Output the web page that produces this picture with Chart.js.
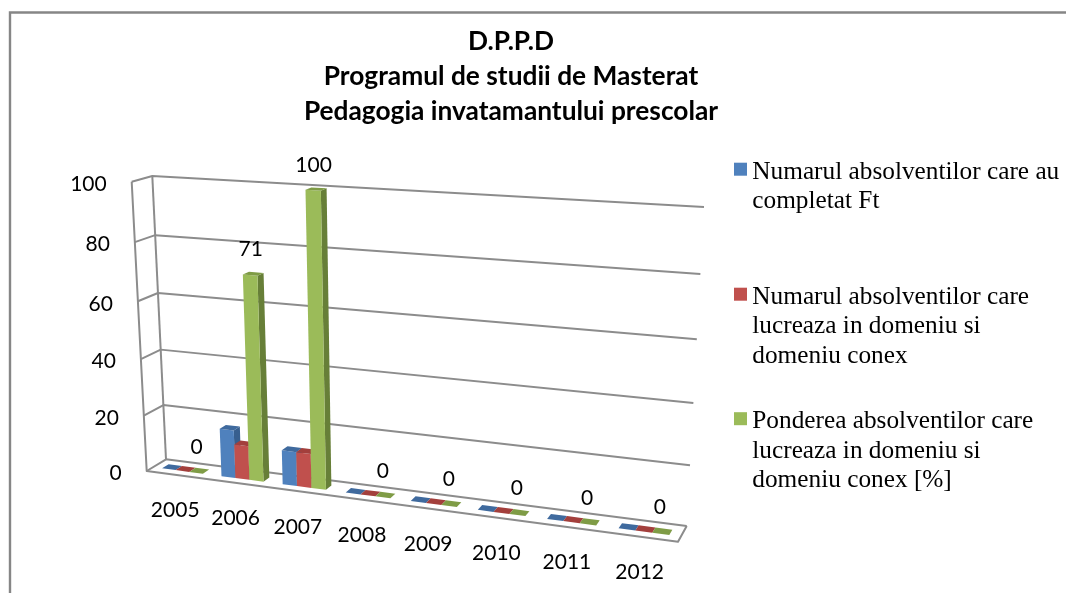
<!DOCTYPE html>
<html><head><meta charset="utf-8">
<style>html,body{margin:0;padding:0;background:#fff}canvas{display:block}</style>
<script src="https://cdn.jsdelivr.net/npm/chart.js@4"></script>
</head><body><canvas id="c" width="1066" height="593"></canvas>
<script>
const categories = ['2005','2006','2007','2008','2009','2010','2011','2012'];
const completed = [0,17,12,0,0,0,0,0];
const working = [0,12,12,0,0,0,0,0];
const share = [0,71,100,0,0,0,0,0];
const seriesNames = ['Numarul absolventilor care au completat Ft','Numarul absolventilor care lucreaza in domeniu si domeniu conex','Ponderea absolventilor care lucreaza in domeniu si domeniu conex [%]'];
const legendLines = [['Numarul absolventilor care au','completat Ft'],['Numarul absolventilor care','lucreaza in domeniu si','domeniu conex'],['Ponderea absolventilor care','lucreaza in domeniu si','domeniu conex [%]']];
const titleLines = ['D.P.P.D','Programul de studii de Masterat','Pedagogia invatamantului prescolar'];
const frontColors = ['#4F81BD','#C0504D','#9BBB59'];
const sideColors = ['#375F8F','#8F3A38','#677F38'];
const topColors = ['#3F6A9E','#A33F3C','#7F9C46'];
const gridColor = '#8C8C8C';
const labelFont = '21px Lato';
// camera: corners of the back wall and of the front plane of the 3D box
const backQuad = [[166,459.3],[686.7,526],[704,207],[152.3,176]];
const frontQuad = [[146.7,471],[678,541.7],[695,216],[131.7,181.7]];
function homography(q){
  const [p0,p1,p2,p3]=q;
  const dx1=p1[0]-p2[0],dx2=p3[0]-p2[0],sx=p0[0]-p1[0]+p2[0]-p3[0];
  const dy1=p1[1]-p2[1],dy2=p3[1]-p2[1],sy=p0[1]-p1[1]+p2[1]-p3[1];
  const den=dx1*dy2-dx2*dy1;
  const g=(sx*dy2-dx2*sy)/den,h=(dx1*sy-sx*dy1)/den;
  const a=p1[0]-p0[0]+g*p1[0],b=p3[0]-p0[0]+h*p3[0],c=p0[0];
  const d=p1[1]-p0[1]+g*p1[1],e=p3[1]-p0[1]+h*p3[1],f=p0[1];
  return (u,v)=>{const w=g*u+h*v+1;return [(a*u+b*v+c)/w,(d*u+e*v+f)/w];};
}
const hBack=homography(backQuad),hFront=homography(frontQuad);
function project(chart,x,y,d){
  const a=chart.chartArea;
  const u=(x-a.left)/(a.right-a.left),v=(a.bottom-y)/(a.bottom-a.top);
  const b=hBack(u,v),f=hFront(u,v);
  return [b[0]+(f[0]-b[0])*d,b[1]+(f[1]-b[1])*d];
}
function poly(ctx,pts,fill){
  ctx.beginPath();pts.forEach((p,i)=>i?ctx.lineTo(p[0],p[1]):ctx.moveTo(p[0],p[1]));ctx.closePath();
  ctx.fillStyle=fill;ctx.fill();
}
function line(ctx,pts){
  ctx.beginPath();pts.forEach((p,i)=>i?ctx.lineTo(p[0],p[1]):ctx.moveTo(p[0],p[1]));ctx.stroke();
}
const barFront=0.67,barBack=0.33;
const box3d={
  id:'box3d',
  beforeDraw(chart){
    const ctx=chart.ctx;ctx.save();
    ctx.fillStyle='#fff';ctx.fillRect(0,0,chart.width,chart.height);
    ctx.strokeStyle='#868686';ctx.lineWidth=2.4;
    line(ctx,[[10,chart.height],[10,12.5],[chart.width,12.5]]);
    ctx.restore();
  },
  beforeDatasetsDraw(chart){
    const ctx=chart.ctx,a=chart.chartArea,ys=chart.scales.y;
    ctx.save();
    ctx.strokeStyle=gridColor;ctx.lineWidth=2;ctx.lineJoin='round';
    ys.ticks.forEach(t=>{
      const y=ys.getPixelForValue(t.value);
      line(ctx,[project(chart,a.left,y,1),project(chart,a.left,y,0),project(chart,a.right,y,0)]);
    });
    line(ctx,[project(chart,a.left,a.top,1),project(chart,a.left,a.bottom,1),project(chart,a.right,a.bottom,1),project(chart,a.right,a.bottom,0)]);
    line(ctx,[project(chart,a.left,a.top,0),project(chart,a.left,a.bottom,0)]);
    chart.getSortedVisibleDatasetMetas().forEach(meta=>{
      const k=meta.index;
      meta.data.forEach(el=>{
        const l=el.x-el.width/2,r=el.x+el.width/2,y=el.y,b=el.base;
        if(Math.abs(b-y)>0.01){
          poly(ctx,[project(chart,r,b,barFront),project(chart,r,b,barBack),project(chart,r,y,barBack),project(chart,r,y,barFront)],sideColors[k]);
          poly(ctx,[project(chart,l,b,barFront),project(chart,r,b,barFront),project(chart,r,y,barFront),project(chart,l,y,barFront)],frontColors[k]);
        }
        poly(ctx,[project(chart,l,y,barFront),project(chart,r,y,barFront),project(chart,r,y,barBack),project(chart,l,y,barBack)],topColors[k]);
      });
    });
    ctx.restore();
    return false;
  },
  afterDraw(chart){
    const ctx=chart.ctx,a=chart.chartArea,xs=chart.scales.x,ys=chart.scales.y;
    ctx.save();
    ctx.fillStyle='#000';ctx.font=labelFont;ctx.textBaseline='middle';
    ctx.textAlign='right';
    ys.ticks.forEach(t=>{
      const p=project(chart,a.left,ys.getPixelForValue(t.value),1);
      ctx.fillText(String(t.value),p[0]-25,p[1]+2.5);
    });
    ctx.textAlign='center';
    categories.forEach((c,i)=>{
      const p=project(chart,xs.getPixelForTick(i),a.bottom,1);
      ctx.fillText(c,p[0]-1,p[1]+35.5);
    });
    const meta=chart.getDatasetMeta(2);
    meta.data.forEach((el,i)=>{
      const p=project(chart,el.x,el.y,0.5);
      ctx.fillText(String(share[i]),p[0]-2.5,p[1]-24);
    });
    ctx.textAlign='left';ctx.font='25.3px "Liberation Serif"';ctx.textBaseline='middle';
    const lx=752.3,bx=734,starts=[172,297,421.5];
    legendLines.forEach((lines,k)=>{
      ctx.fillStyle=frontColors[k];ctx.fillRect(bx,starts[k]-9.3,13,13);
      ctx.fillStyle='#000';
      lines.forEach((s,j)=>ctx.fillText(s,lx,starts[k]+j*29.6));
    });
    ctx.restore();
  }
};
new Chart(document.getElementById('c'),{
  type:'bar',
  data:{labels:categories,datasets:[
    {label:seriesNames[0],data:completed,backgroundColor:frontColors[0]},
    {label:seriesNames[1],data:working,backgroundColor:frontColors[1]},
    {label:seriesNames[2],data:share,backgroundColor:frontColors[2]}
  ]},
  options:{
    responsive:false,animation:false,
    layout:{padding:{left:147,right:191,top:24,bottom:120}},
    categoryPercentage:0.69,barPercentage:1,
    plugins:{
      legend:{display:false},tooltip:{enabled:false},
      title:{display:true,text:titleLines,color:'#000',font:{family:'Lato',size:26.3,weight:'bold',lineHeight:1.33},padding:{top:0,bottom:10}}
    },
    scales:{
      x:{grid:{display:false},border:{display:false},ticks:{display:false,autoSkip:false}},
      y:{min:0,max:100,grid:{display:false},border:{display:false},ticks:{display:false,stepSize:20}}
    }
  },
  plugins:[box3d]
});
</script></body></html>
